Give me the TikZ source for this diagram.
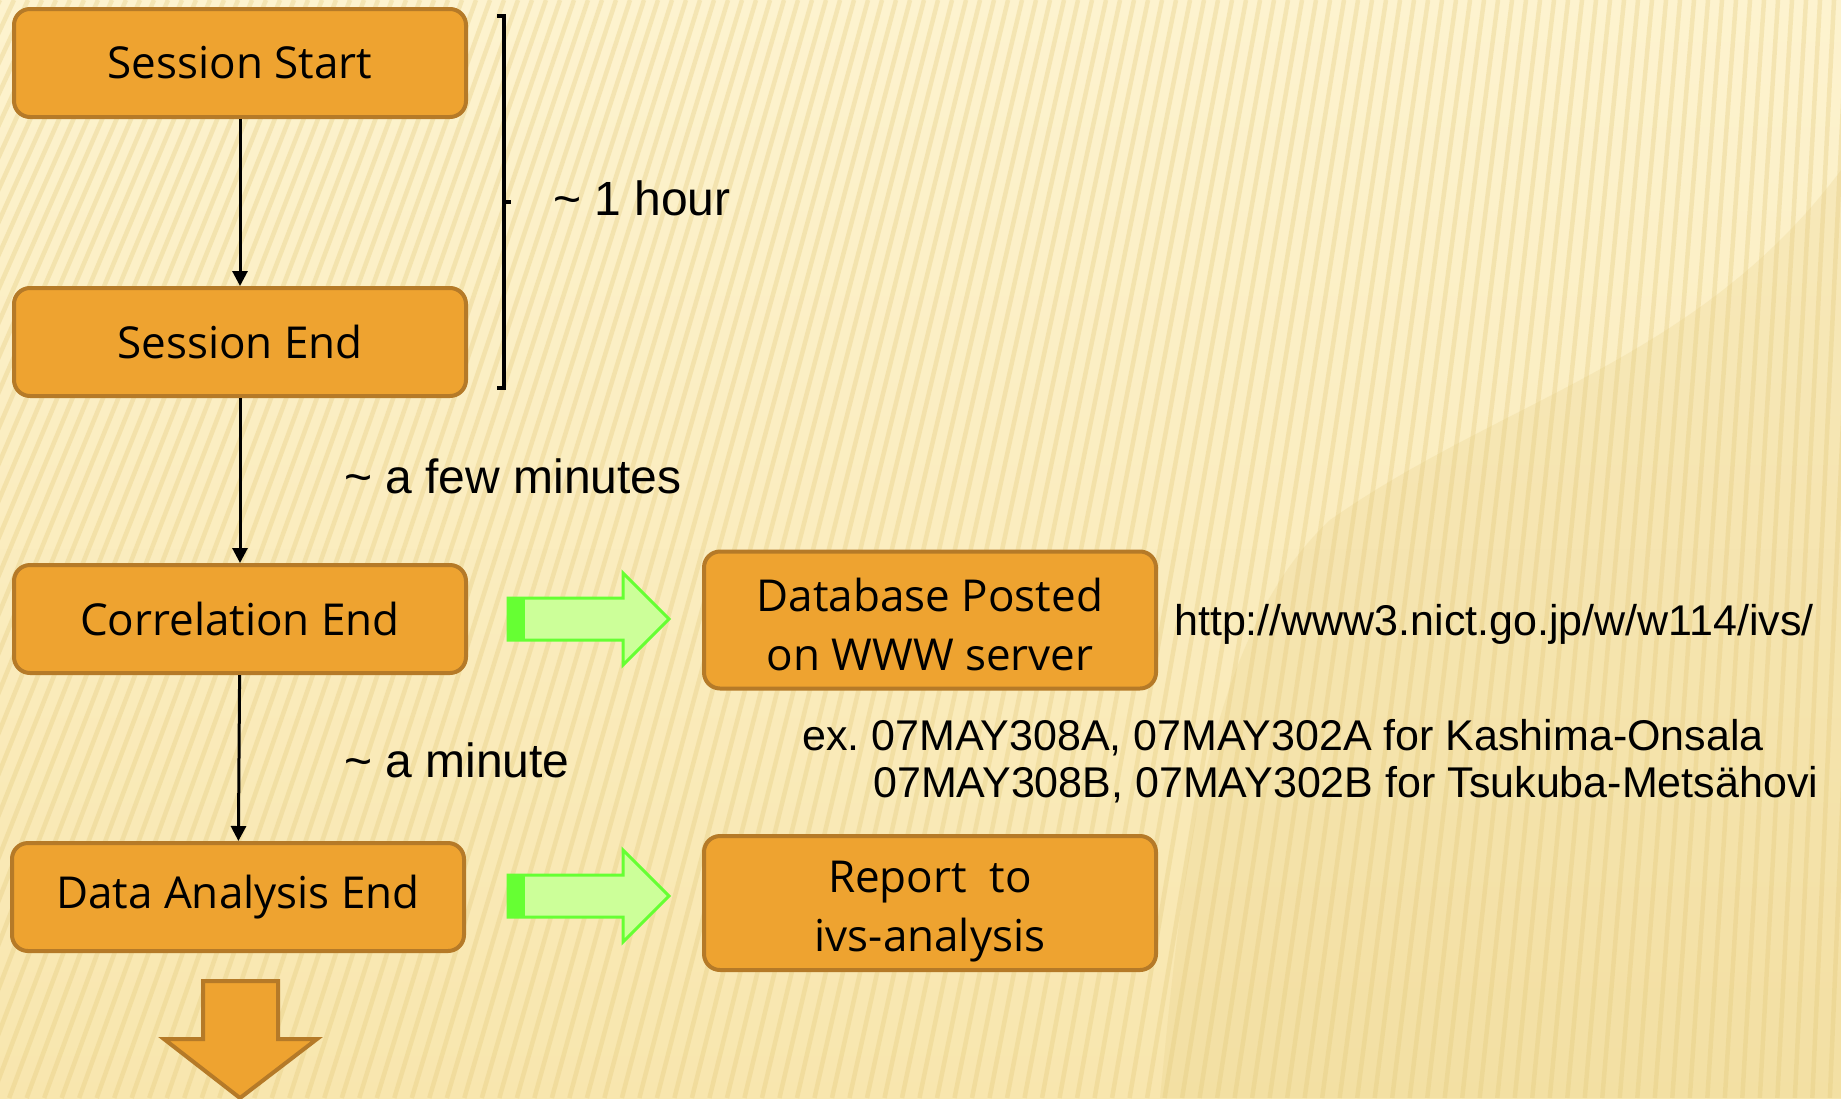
\documentclass[tikz,border=0pt]{standalone}
\usepackage{fontspec}
\setmainfont{Liberation Sans}
\newfontfamily\boxfont{Open Sans}
\usetikzlibrary{arrows.meta}
\definecolor{bgtop}{HTML}{FDF3CF}
\definecolor{bgbot}{HTML}{F8E6AE}
\definecolor{stripe}{HTML}{E3C879}
\definecolor{boxfill}{HTML}{EEA330}
\definecolor{boxline}{HTML}{B57A28}
\definecolor{grfill}{HTML}{CCFF99}
\definecolor{grline}{HTML}{66FF33}
\frenchspacing
\begin{document}
\begin{tikzpicture}[x=1pt,y=-1pt,
  stepbox/.style={draw=boxline, fill=boxfill, line width=4pt, rounded corners=16pt,
    minimum width=452pt, minimum height=108pt, inner sep=0pt, align=center,
    font=\boxfont\fontsize{44}{59}\selectfont},
  boxtext/.style={inner sep=0pt, align=center, font=\boxfont\fontsize{44}{59}\selectfont},
  conn/.style={line width=3pt, -{Triangle[length=15pt,width=15pt]}},
  lbl/.style={font=\fontsize{48}{54}\selectfont, inner sep=0pt, anchor=base west},
  small/.style={font=\fontsize{43}{50}\selectfont, inner sep=0pt, anchor=base west},
  grarrow/.style={fill=grfill, draw=grline, line width=3pt, line join=miter},
  bigarrow/.style={fill=boxfill, draw=boxline, line width=4pt, line join=miter}
]
% background
\useasboundingbox (0,0) rectangle (1841,1098);
\fill[top color=bgtop, bottom color=bgbot] (0,0) rectangle (1841,1098);
\begin{scope}
  \clip (0,0) rectangle (1841,1098);
  \fill[stripe, opacity=0.2] (1841,170) .. controls (1700,360) and (1500,400) .. (1330,520)
    .. controls (1200,640) and (1180,900) .. (1160,1098) -- (1841,1098) -- cycle;
  \foreach \i in {-40,...,140} {
    \pgfmathsetmacro\xt{\i*14}
    \pgfmathsetmacro\xb{\xt - 1098*(0.47-0.42*\xt/1841)}
    \draw[stripe, opacity=0.32, line width=4.5pt] (\xt,0) -- (\xb,1098);
  }
\end{scope}

% flow boxes
\node[stepbox] (ss) at (240,63) {Session Start};
\node[stepbox] (se) at (240,342) {Session End};
\node[stepbox] (ce) at (240,619) {Correlation End};
\node[stepbox] (da) at (238,897) {Data Analysis End};
\node[stepbox, minimum height=137pt] (db) at (930,620) {};
\node[boxtext] (dbt) at (930,624) {Database Posted\\on WWW server};
\node[stepbox, minimum height=134pt] (rp) at (930,903) {};
\node[boxtext] (rpt) at (930,912) {Report~~to\\ivs-analysis};

% connectors
\draw[conn] (ss) -- (se);
\draw[conn] (se) -- (ce);
\draw[conn] (ce) -- (da);

% bracket
\coordinate (bt) at (497,16);
\coordinate (bb) at (497,388);
\coordinate (bm) at (504,202);
\draw[line width=4pt] (bt) -- (504,16) -- (504,388) -- (bb);
\draw[line width=4pt] (bm) -- (511,202);

% labels
\node[lbl] (hour) at (553,215) {\textasciitilde{} 1 hour};
\node[lbl] (few) at (344,493) {\textasciitilde{} a few minutes};
\node[lbl] (min) at (344,777) {\textasciitilde{} a minute};
\node[small] (url) at (1174,635) {http://www3.nict.go.jp/w/w114/ivs/};
\node[small] (ex1) at (802,750) {ex. 07MAY308A, 07MAY302A for Kashima-Onsala};
\node[small] (ex2) at (873,797) {07MAY308B, 07MAY302B for Tsukuba-Metsähovi};

% green arrows
\draw[grarrow] (508,598) -- (623,598) -- (623,573) -- (669,619) -- (623,665) -- (623,640) -- (508,640) -- cycle;
\fill[grline] (508,598) rectangle (525,640);
\draw[grarrow] (508,875) -- (623,875) -- (623,850) -- (669,896) -- (623,942) -- (623,917) -- (508,917) -- cycle;
\fill[grline] (508,875) rectangle (525,917);

% bottom arrow
\draw[bigarrow] (203,981) -- (278,981) -- (278,1039) -- (317,1039) -- (240,1098)
  -- (164,1039) -- (203,1039) -- cycle;
\end{tikzpicture}
\end{document}
